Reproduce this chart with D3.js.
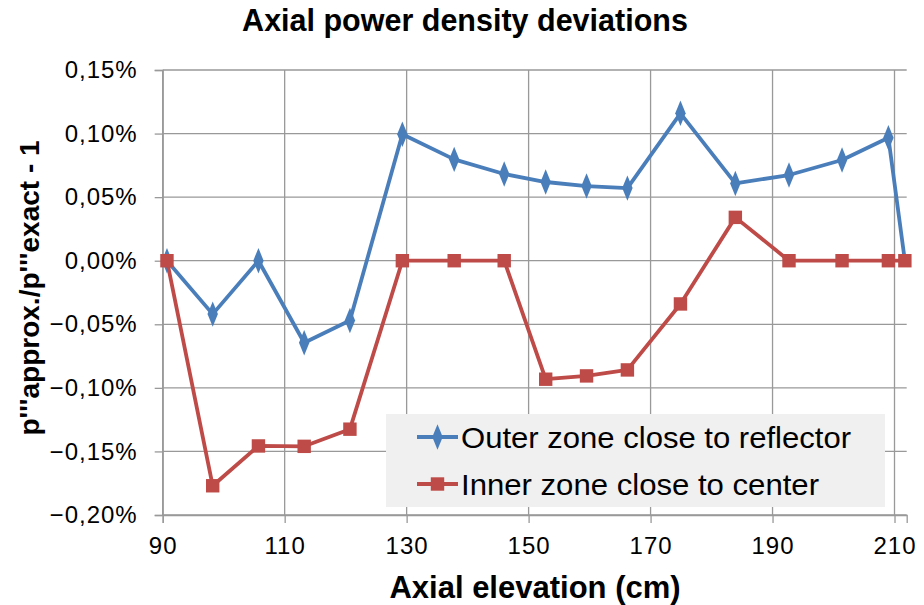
<!DOCTYPE html>
<html>
<head>
<meta charset="utf-8">
<script src="https://cdn.jsdelivr.net/npm/d3@7"></script>
<style>
  body { margin: 0; background: #fff; }
  text { font-family: "Liberation Sans", Arial, sans-serif; }
</style>
</head>
<body>
<svg width="924" height="605"></svg>
<script>
// axial elevation (cm) and relative deviation (%)
let outerX = [90.7, 98.2, 105.7, 113.2, 120.7, 129.3, 137.8, 146.0, 152.8, 159.5, 166.2, 174.9, 183.9, 192.7, 201.4, 209.0, 211.7];
let outerY = [0.000, -0.042, 0.000, -0.0645, -0.047, 0.0994, 0.0797, 0.0682, 0.0619, 0.0587, 0.0571, 0.1159, 0.0608, 0.0674, 0.0792, 0.0967, 0.000];
let innerX = [90.7, 98.2, 105.7, 113.2, 120.7, 129.3, 137.8, 146.0, 152.8, 159.5, 166.2, 174.9, 183.9, 192.7, 201.4, 209.0, 211.7];
let innerY = [0.000, -0.177, -0.1457, -0.146, -0.1325, 0.000, 0.000, 0.000, -0.0932, -0.0906, -0.0859, -0.034, 0.0341, 0.000, 0.000, 0.000, 0.000];
let xTicks = [90, 110, 130, 150, 170, 190, 210];
let yTicks = [-0.20, -0.15, -0.10, -0.05, 0.00, 0.05, 0.10, 0.15];
let seriesNames = ['Outer zone close to reflector', 'Inner zone close to center'];

let svg = d3.select('svg');
let pLeft = 162.7, pRight = 906.7, pTop = 70, pBottom = 515;

let x = d3.scaleLinear().domain([90, 212]).range([pLeft, pRight]);
let y = d3.scaleLinear().domain([-0.20, 0.15]).range([pBottom, pTop]);

let grid = '#999';

// grid
svg.append('g').selectAll('line').data(yTicks).enter().append('line')
    .attr('x1', pLeft).attr('x2', pRight)
    .attr('y1', d => y(d)).attr('y2', d => y(d))
    .attr('stroke', grid).attr('stroke-width', 1.3);
svg.append('g').selectAll('line').data(xTicks).enter().append('line')
    .attr('x1', d => x(d)).attr('x2', d => x(d))
    .attr('y1', pTop).attr('y2', pBottom)
    .attr('stroke', grid).attr('stroke-width', 1.3);

// axes
let fmt = d => d3.format('.2f')(d).replace('.', ',') + '%';
let yAxis = svg.append('g').attr('transform', `translate(${pLeft},0)`)
    .call(d3.axisLeft(y).tickValues(yTicks).tickFormat(fmt).tickSize(8).tickPadding(17));
let xAxis = svg.append('g').attr('transform', `translate(0,${pBottom})`)
    .call(d3.axisBottom(x).tickValues(xTicks).tickSize(8).tickPadding(14));
[yAxis, xAxis].forEach(a => {
    a.select('.domain').attr('stroke', grid).attr('stroke-width', 1.3);
    a.selectAll('.tick line').attr('stroke', grid).attr('stroke-width', 1.3);
    a.selectAll('.tick text').attr('font-family', '"Liberation Sans", Arial, sans-serif')
        .attr('font-size', 24).attr('letter-spacing', 1).attr('fill', '#000');
});

// series
let line = d3.line().x(d => x(d[0])).y(d => y(d[1]));
let outer = outerX.map((v, i) => [v, outerY[i]]);
let inner = innerX.map((v, i) => [v, innerY[i]]);
let blue = '#4a7ebb', red = '#be4b48';

let diamond = d3.symbol().type(d3.symbolDiamond).size(130);
let square = d3.symbol().type(d3.symbolSquare).size(180);

svg.append('path').datum(outer).attr('d', line)
    .attr('fill', 'none').attr('stroke', blue).attr('stroke-width', 3.8).attr('stroke-linejoin', 'round');
svg.append('g').selectAll('path').data(outer.slice(0, -1)).enter().append('path')
    .attr('d', diamond).attr('fill', blue)
    .attr('transform', d => `translate(${x(d[0])},${y(d[1])}) scale(0.85,1.2)`);

svg.append('path').datum(inner).attr('d', line)
    .attr('fill', 'none').attr('stroke', red).attr('stroke-width', 3.8).attr('stroke-linejoin', 'round');
svg.append('g').selectAll('path').data(inner).enter().append('path')
    .attr('d', square).attr('fill', red)
    .attr('transform', d => `translate(${x(d[0])},${y(d[1])})`);

// legend
let lg = svg.append('g');
lg.append('rect').attr('x', 386).attr('y', 414).attr('width', 499).attr('height', 93).attr('fill', '#f0f0f0');
let legendWidths = [390, 358];
[[blue, diamond, 'scale(0.85,1.2)'], [red, square, '']].forEach(([c, sym, sc], i) => {
    let cy = 437 + i * 47;
    lg.append('line').attr('x1', 417).attr('x2', 458).attr('y1', cy).attr('y2', cy)
        .attr('stroke', c).attr('stroke-width', 3.8);
    lg.append('path').attr('d', sym).attr('fill', c)
        .attr('transform', `translate(437.5,${cy}) ${sc}`);
    lg.append('text').attr('x', 461).attr('y', cy + 11).attr('font-size', 30)
        .attr('textLength', legendWidths[i]).attr('lengthAdjust', 'spacingAndGlyphs')
        .text(seriesNames[i]);
});

// titles
svg.append('text').attr('x', 465).attr('y', 31).attr('text-anchor', 'middle')
    .attr('font-family', 'Lato, "Open Sans", sans-serif').attr('font-weight', 'bold').attr('font-size', 30.5)
    .text('Axial power density deviations');
svg.append('text').attr('x', 535).attr('y', 598).attr('text-anchor', 'middle')
    .attr('font-weight', 'bold').attr('font-size', 31)
    .text('Axial elevation (cm)');
svg.append('text').attr('transform', 'translate(39,288) rotate(-90)').attr('text-anchor', 'middle')
    .attr('font-weight', 'bold').attr('font-size', 28)
    .text('p\'\'\'approx./p\'\'\'exact - 1');
</script>
</body>
</html>
